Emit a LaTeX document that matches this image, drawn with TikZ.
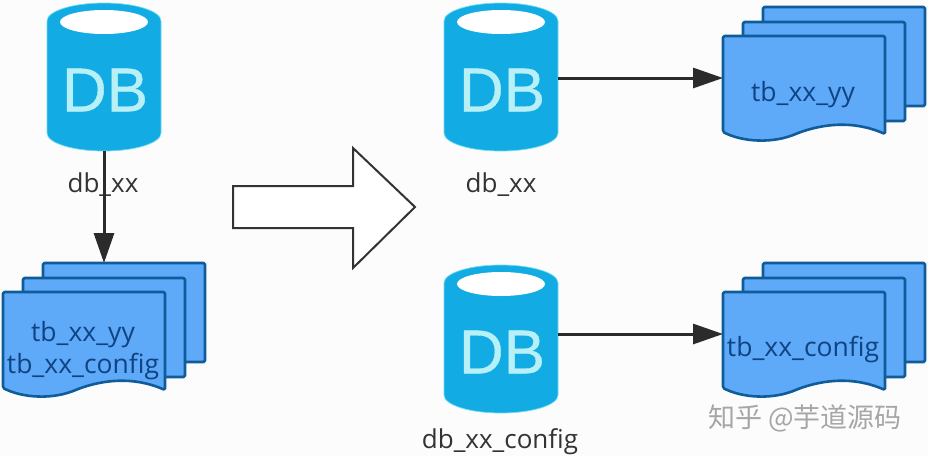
\documentclass[tikz,border=0pt]{standalone}
\usepackage{fontspec}
\setmainfont{Open Sans}
\newfontfamily\cjk{Noto Sans CJK SC}
\newfontfamily\dbfont[FakeBold=0.6]{Liberation Sans}
\usetikzlibrary{arrows.meta,shapes.geometric}

\definecolor{dbblue}{HTML}{12ABE3}
\definecolor{dbglow}{HTML}{6FDDF2}
\definecolor{dbtext}{HTML}{B8F0F8}
\definecolor{docblue}{HTML}{5FA9F9}
\definecolor{docline}{HTML}{0F5C9A}
\definecolor{doctext}{HTML}{0F4483}
\definecolor{inkdark}{HTML}{2B2B2B}

\tikzset{
  dbbody/.style={rectangle,draw=none,minimum width=114pt,minimum height=148pt,inner sep=0pt},
  dbcan/.style={fill=dbblue,draw=dbglow,line width=0.7pt},
  dbhole/.style={ellipse,fill=white,draw=none,minimum width=88pt,minimum height=24pt,inner sep=0pt},
  dbmark/.style={text=dbtext,font=\fontsize{62}{62}\selectfont\dbfont},
  dblabel/.style={text=black!80,font=\fontsize{26}{26}\selectfont},
  doclayer/.style={fill=docblue,draw=docline,line width=2.6pt,line join=round,rounded corners=1.5pt},
  doclabel/.style={text=doctext,font=\fontsize{26.5}{26.5}\selectfont},
  linkarrow/.style={draw=inkdark,line width=3pt,-{Triangle[length=30pt,width=20pt,fill=inkdark]}},
}

% 紙の束: 名前, 左上の基準点
\newcommand{\docstack}[3]{%
  \foreach \offx/\offy in {40/-29,20/-14}{%
    \draw[doclayer] (#2+\offx,#3+\offy) -- ++(162,0) -- ++(0,99) -- ++(-162,0) -- cycle;
  }
  \draw[doclayer] (#2,#3) -- ++(162,0) -- ++(0,98)
    .. controls (#2+130,#3+84) and (#2+100,#3+88) .. (#2+75,#3+97)
    .. controls (#2+50,#3+108) and (#2+20,#3+106) .. (#2,#3+96) -- cycle;
  \coordinate (#1-n) at (#2+40,#3-29);
  \coordinate (#1-w) at (#2,#3+42);
}

\begin{document}
\begin{tikzpicture}[x=1pt,y=-1pt]
  \useasboundingbox (0,0) rectangle (928,456);
  \fill[white!99!black] (0,0) rectangle (928,456);

  % データベース
  \foreach \name/\cx/\cy in {dbLeft/104/77,dbTop/501/77,dbBottom/501/339}{%
    \node[dbbody] (\name) at (\cx,\cy) {};
    \draw[dbcan] (\cx-57,\cy-56) arc[start angle=180,end angle=360,x radius=57,y radius=18]
      -- (\cx+57,\cy+56) arc[start angle=0,end angle=180,x radius=57,y radius=18] -- cycle;
    \node[dbhole] (\name-hole) at (\cx,\cy-55) {};
    \node[dbmark] (\name-mark) at (\cx+1,\cy+13) {DB};
  }

  \node[dblabel] (labelLeft) at (103,184.5) {db\_xx};
  \node[dblabel] (labelTop) at (501,184.5) {db\_xx};
  \node[dblabel] (labelBottom) at (500,442) {db\_xx\_config};

  % テーブル
  \docstack{stackLeft}{3}{292}
  \docstack{stackTop}{723}{36}
  \docstack{stackBottom}{723}{292}

  \node[doclabel] (tableLeftA) at (83,334.5) {tb\_xx\_yy};
  \node[doclabel] (tableLeftB) at (83,367) {tb\_xx\_config};
  \node[doclabel] (tableTop) at (803,94.5) {tb\_xx\_yy};
  \node[doclabel] (tableBottom) at (803,350) {tb\_xx\_config};

  % 矢印
  \draw[linkarrow] (dbLeft.south) -- (dbLeft.south |- stackLeft-n);
  \draw[linkarrow] (dbTop.east |- stackTop-w) -- (stackTop-w);
  \draw[linkarrow] (dbBottom.east |- stackBottom-w) -- (stackBottom-w);

  \draw[line width=2pt,draw=black!80,fill=white]
    (233,186) -- (353,186) -- (353,148) -- (415,207) -- (353,268) -- (353,228) -- (233,228) -- cycle;

  \node[text=black!35,font=\fontsize{27}{27}\selectfont\cjk] (watermark) at (805,418) {知乎 @芋道源码};
\end{tikzpicture}
\end{document}
